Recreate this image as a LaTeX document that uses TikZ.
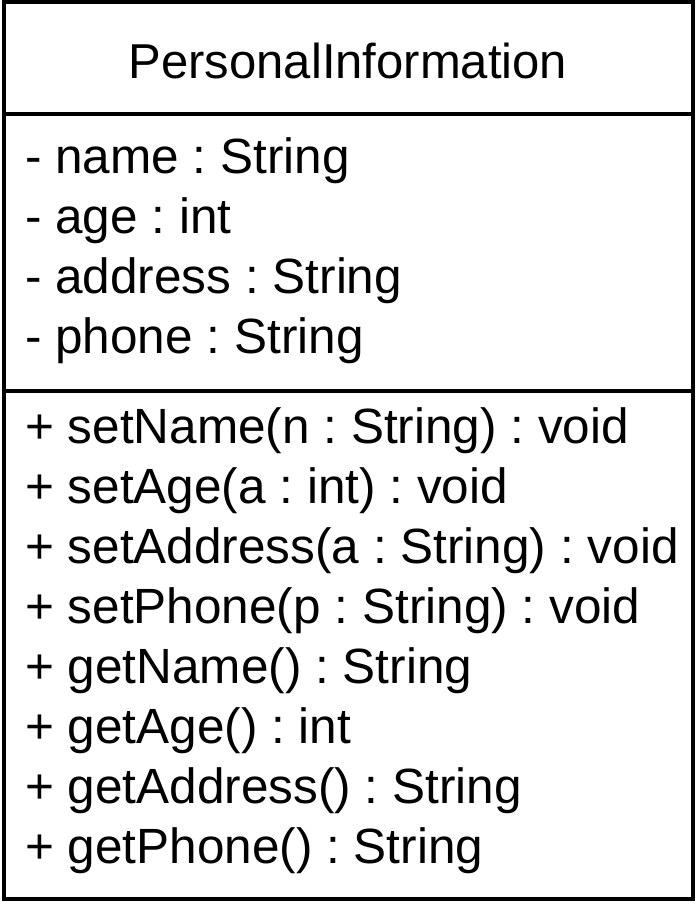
\documentclass[tikz,border=0pt]{standalone}
\usepackage{fontspec}
\setmainfont{Liberation Sans}
\frenchspacing
\begin{document}
\begin{tikzpicture}[x=1pt,y=-1pt,
  boxline/.style={line width=4pt},
  txt/.style={anchor=base west,inner sep=0pt,font=\fontsize{49.5}{60}\selectfont},
  ttl/.style={anchor=base,inner sep=0pt,font=\fontsize{49}{60}\selectfont}]
\useasboundingbox (0,0) rectangle (696,903);
\coordinate (tl) at (4,2);
\coordinate (br) at (692.5,898.5);
\draw[boxline] (tl) rectangle (br);
\coordinate (d1l) at (4,113.5);
\coordinate (d1r) at (692.5,113.5);
\coordinate (d2l) at (4,391);
\coordinate (d2r) at (692.5,391);
\draw[boxline] (d1l) -- (d1r);
\draw[boxline] (d2l) -- (d2r);
\node[ttl] (title) at (348,78) {PersonalInformation};
\node[txt] (a1) at (25,173) {- name : String};
\node[txt] (a2) at (25,233) {- age : int};
\node[txt] (a3) at (25,293) {- address : String};
\node[txt] (a4) at (25,353) {- phone : String};
\node[txt] (m1) at (25,443) {+ setName(n : String) : void};
\node[txt] (m2) at (25,503) {+ setAge(a : int) : void};
\node[txt] (m3) at (25,563) {+ setAddress(a : String) : void};
\node[txt] (m4) at (25,623) {+ setPhone(p : String) : void};
\node[txt] (m5) at (25,683) {+ getName() : String};
\node[txt] (m6) at (25,743) {+ getAge() : int};
\node[txt] (m7) at (25,803) {+ getAddress() : String};
\node[txt] (m8) at (25,863) {+ getPhone() : String};
\end{tikzpicture}
\end{document}
